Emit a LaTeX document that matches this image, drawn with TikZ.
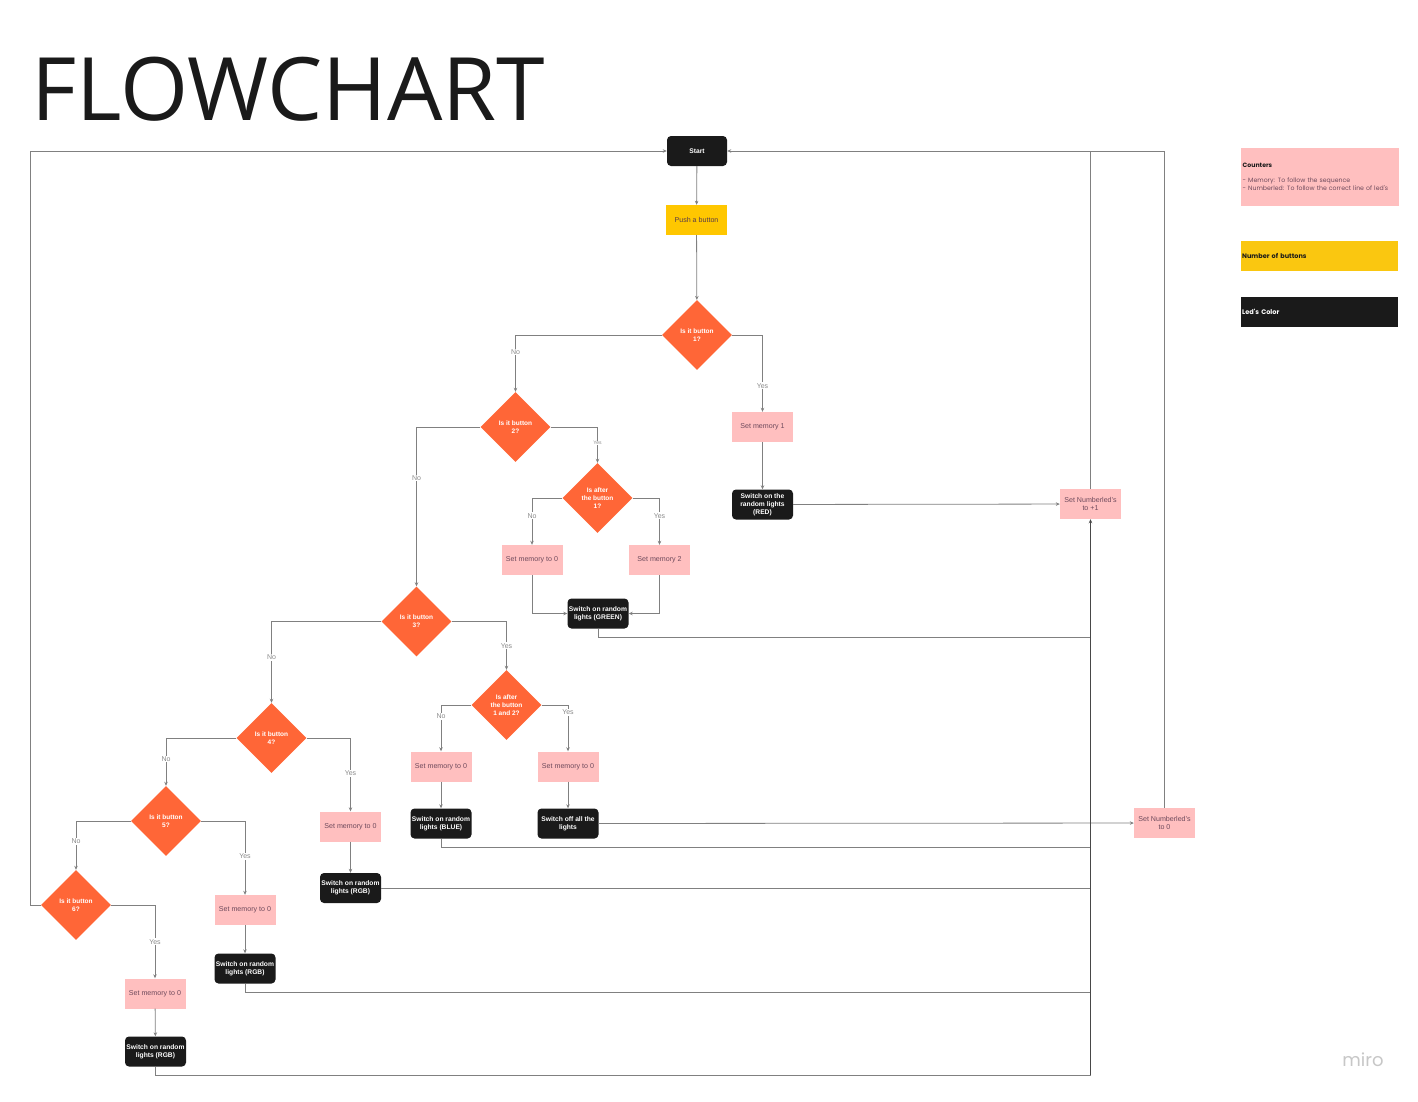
\documentclass[tikz,border=0pt]{standalone}
\usepackage{fontspec}
\setsansfont{Liberation Sans}
\newfontfamily\titlefont{Open Sans}
\newfontfamily\legfont{Poppins}
\usetikzlibrary{shapes.geometric,arrows.meta}
\definecolor{dorange}{HTML}{FF6637}
\definecolor{bpink}{HTML}{FFBFBF}
\definecolor{ptext}{HTML}{6E4A5C}
\definecolor{byellow}{HTML}{FFC700}
\definecolor{lyellow}{HTML}{FAC710}
\definecolor{bblack}{HTML}{1A1A1A}
\definecolor{lgray}{HTML}{808080}
\definecolor{lbltext}{HTML}{8A8A8A}
\tikzset{
  dec/.style={shape=diamond,fill=dorange,minimum width=70pt,minimum height=70pt,inner sep=0pt,aspect=1,text=white,font=\sffamily\bfseries\fontsize{6.5}{7.7}\selectfont,align=center},
  pinkbox/.style={rectangle,fill=bpink,minimum width=61pt,minimum height=30pt,inner sep=1pt,align=center,text=ptext,font=\sffamily\fontsize{7.1}{8}\selectfont},
  blackbox/.style={rectangle,rounded corners=4pt,fill=bblack,minimum width=61pt,minimum height=30pt,inner sep=0pt,align=center,text=white,font=\sffamily\bfseries\fontsize{6.7}{7.8}\selectfont},
  yelbox/.style={rectangle,fill=byellow,minimum width=61pt,minimum height=30pt,inner sep=1pt,align=center,text=ptext!80!black,font=\sffamily\fontsize{7.1}{8}\selectfont},
  conn/.style={draw=lgray,line width=0.8pt},
  arr/.style={conn,-{Stealth[length=4pt,width=3.5pt]}},
  lbl/.style={fill=white,inner sep=1pt,text=lbltext,font=\sffamily\fontsize{7}{8}\selectfont},
  tinylbl/.style={fill=white,inner sep=0.5pt,text=lbltext,font=\sffamily\fontsize{5}{6}\selectfont}
}
\begin{document}
\begin{tikzpicture}[x=1pt,y=-1pt]
\useasboundingbox[fill=white] (0,0) rectangle (1418,1101);
% title
\node[anchor=base west,inner sep=0pt,text=bblack,font=\titlefont\fontsize{87.5}{90}\selectfont] (title) at (31,120) {FLOWCHART};
% nodes
\node[blackbox,minimum width=60pt] (start) at (697,151) {Start};
\node[yelbox] (push) at (696.5,220) {Push a button};
\node[dec] (d1) at (697,335) {Is it button\\1?};
\node[pinkbox] (sm1) at (762.5,427) {Set memory 1};
\node[blackbox] (red) at (762.5,504.5) {Switch on the\\random lights\\(RED)};
\node[pinkbox] (snp) at (1090.5,504) {Set Numberled's\\to +1};
\node[dec] (d2) at (515.5,427) {Is it button\\2?};
\node[dec] (d2a) at (597.5,498) {Is after\\the button\\1?};
\node[pinkbox] (sm0a) at (532,560) {Set memory to 0};
\node[pinkbox] (sm2) at (659.5,560) {Set memory 2};
\node[blackbox] (green) at (598,613.5) {Switch on random\\lights (GREEN)};
\node[dec] (d3) at (416.5,621.5) {Is it button\\3?};
\node[dec] (d3a) at (506.5,705) {Is after\\the button\\1 and 2?};
\node[pinkbox] (sm0b) at (441,766.5) {Set memory to 0};
\node[pinkbox] (sm0c) at (568,766.5) {Set memory to 0};
\node[blackbox] (blue) at (441,823.5) {Switch on random\\lights (BLUE)};
\node[blackbox] (off) at (568,823.5) {Switch off all the\\lights};
\node[pinkbox] (sn0) at (1164.5,823) {Set Numberled's\\to 0};
\node[dec] (d4) at (271.5,738) {Is it button\\4?};
\node[pinkbox] (sm0d) at (350.5,826.5) {Set memory to 0};
\node[blackbox] (rgb1) at (350.5,888) {Switch on random\\lights (RGB)};
\node[dec] (d5) at (166,821) {Is it button\\5?};
\node[pinkbox] (sm0e) at (245,910) {Set memory to 0};
\node[blackbox] (rgb2) at (245,968.5) {Switch on random\\lights (RGB)};
\node[dec] (d6) at (76,905) {Is it button\\6?};
\node[pinkbox] (sm0f) at (155,993.5) {Set memory to 0};
\node[blackbox] (rgb3) at (155.5,1051.5) {Switch on random\\lights (RGB)};
% junction coordinates on the collecting line
\coordinate (jtop) at (1090.5,151);
\coordinate (jg) at (1090.5,637);
\coordinate (jb) at (1090.5,847);
\coordinate (jr1) at (1090.5,888);
\coordinate (jr2) at (1090.5,992);
\coordinate (jr3) at (1090.5,1075);
% connectors
\draw[arr] (start) -- (push);
\draw[arr] (push) -- (d1);
\draw[arr] (d1.east) -| (sm1.north) node[lbl,pos=0.83]{Yes};
\draw[arr] (sm1) -- (red);
\draw[arr] (red) -- (snp);
\draw[arr] (d1.west) -| (d2.north) node[lbl,pos=0.65]{No};
\draw[arr] (d2.east) -| (d2a.north) node[tinylbl,pos=0.72]{Yes};
\draw[arr] (d2a.west) -| (sm0a.north) node[lbl,pos=0.69]{No};
\draw[arr] (d2a.east) -| (sm2.north) node[lbl,pos=0.69]{Yes};
\draw[arr] (sm0a.south) |- (green.west);
\draw[arr] (sm2.south) |- (green.east);
\draw[arr] (d2.west) -| (d3.north) node[lbl,pos=0.66]{No};
\draw[arr] (d3.east) -| (d3a.north) node[lbl,pos=0.75]{Yes};
\draw[arr] (d3a.west) -| (sm0b.north) node[lbl,pos=0.62]{No};
\draw[arr] (d3a.east) -| (sm0c.north) node[lbl,pos=0.58]{Yes};
\draw[arr] (sm0b) -- (blue);
\draw[arr] (sm0c) -- (off);
\draw[arr] (off) -- (sn0);
\draw[arr] (sn0.north) |- (start.east);
\draw[conn] (snp.north) -- (jtop);
\draw[arr] (d3.west) -| (d4.north) node[lbl,pos=0.72]{No};
\draw[arr] (d4.east) -| (sm0d.north) node[lbl,pos=0.74]{Yes};
\draw[arr] (sm0d) -- (rgb1);
\draw[arr] (d4.west) -| (d5.north) node[lbl,pos=0.72]{No};
\draw[arr] (d5.east) -| (sm0e.north) node[lbl,pos=0.74]{Yes};
\draw[arr] (sm0e) -- (rgb2);
\draw[arr] (d5.west) -| (d6.north) node[lbl,pos=0.71]{No};
\draw[arr] (d6.east) -| (sm0f.north) node[lbl,pos=0.75]{Yes};
\draw[arr] (sm0f) -- (rgb3);
\draw[arr] (d6.west) -- ++(-10,0) |- (start.west);
% return lines to the collecting line
\draw[conn] (green.south) |- (jg);
\draw[conn] (blue.south) |- (jb);
\draw[conn] (rgb1.east) -- (jr1);
\draw[conn] (rgb2.south) |- (jr2);
\draw[conn] (rgb3.south) |- (jr3);
\draw[arr,draw=bblack!80] (jr3) -- (snp.south);
% legend
\node[rectangle,fill=bpink,anchor=north west,minimum width=157pt,minimum height=58pt,text width=155pt,inner sep=1.5pt,align=left,text=ptext,font=\legfont\fontsize{6.2}{8}\selectfont] (legc) at (1241,148) {{\bfseries\color{bblack}Counters}\\[7pt]- Memory: To follow the sequence\\- Numberled: To follow the correct line of led's};
\node[rectangle,fill=lyellow,anchor=north west,minimum width=157pt,minimum height=30pt,text width=155pt,inner sep=1pt,align=left,text=bblack,font=\legfont\bfseries\fontsize{6.5}{7.5}\selectfont] (legy) at (1241,241) {Number of buttons};
\node[rectangle,fill=bblack,anchor=north west,minimum width=157pt,minimum height=30pt,text width=155pt,inner sep=1pt,align=left,text=white,font=\legfont\bfseries\fontsize{6.6}{7.5}\selectfont] (legb) at (1241,297) {Led's Color};
% watermark
\node[text=black!22,font=\legfont\fontsize{18}{19}\selectfont] (miro) at (1363,1060) {miro};
\end{tikzpicture}
\end{document}
